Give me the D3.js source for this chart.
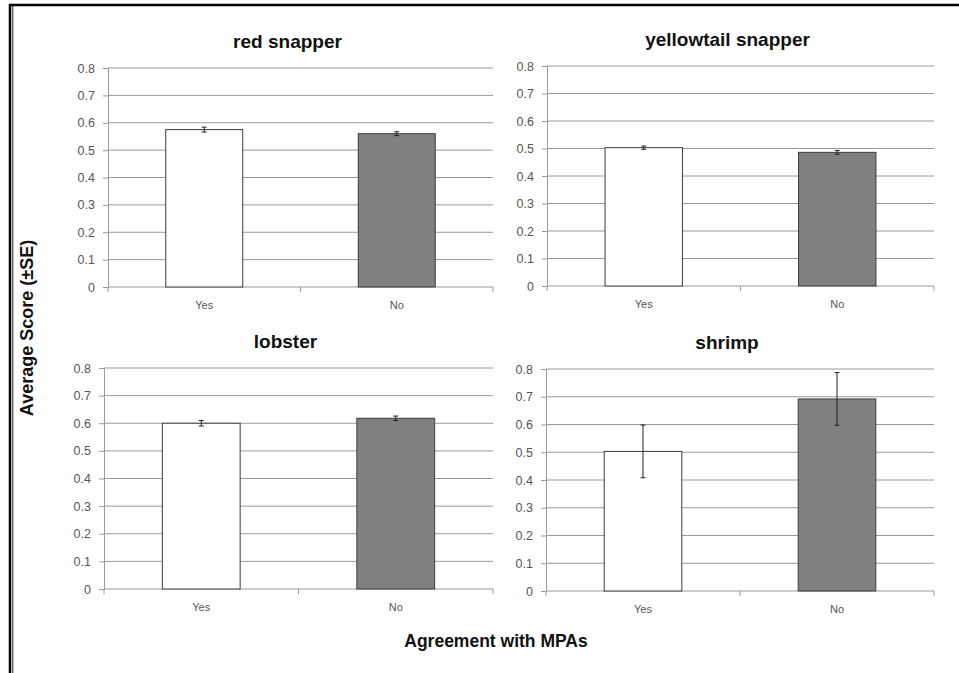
<!DOCTYPE html>
<html>
<head>
<meta charset="utf-8">
<script src="https://cdn.jsdelivr.net/npm/d3@7"></script>
<style>
  html, body { margin: 0; padding: 0; background: #fff; }
  svg { display: block; }
</style>
</head>
<body>
<svg id="chart" width="959" height="673"></svg>
<script>
// Survey results: mean score by agreement with MPAs, per species
const species = ["red snapper", "yellowtail snapper", "lobster", "shrimp"];
const categories = ["Yes", "No"];
const yesMeans = [0.575, 0.503, 0.600, 0.503];
const noMeans  = [0.560, 0.486, 0.618, 0.692];
const yesSE    = [0.009, 0.006, 0.010, 0.095];
const noSE     = [0.007, 0.007, 0.008, 0.095];
const yTicks   = [0, 0.1, 0.2, 0.3, 0.4, 0.5, 0.6, 0.7, 0.8];
const barColors = ["#ffffff", "#808080"];

// Plot area of each panel (left, right, top of 0.8, baseline)
const panels = [
  { x0: 108, x1: 493, yTop: 68,  yBase: 287 },
  { x0: 547, x1: 934, yTop: 66,  yBase: 286 },
  { x0: 104, x1: 493, yTop: 368, yBase: 589 },
  { x0: 546, x1: 934, yTop: 369, yBase: 591 }
];

const svg = d3.select("#chart");
const font = "Arial, 'Liberation Sans', sans-serif";

// Frame: heavy top rule and a double rule down the left side
svg.append("line").attr("x1", 9).attr("x2", 959).attr("y1", 5).attr("y2", 5)
  .attr("stroke", "#000").attr("stroke-width", 2.5);
svg.append("line").attr("x1", 10).attr("x2", 10).attr("y1", 4).attr("y2", 673)
  .attr("stroke", "#000").attr("stroke-width", 2.5);
svg.append("line").attr("x1", 12.8).attr("x2", 12.8).attr("y1", 6).attr("y2", 673)
  .attr("stroke", "#222").attr("stroke-width", 1);

species.forEach((name, i) => {
  const p = panels[i];
  const values = [yesMeans[i], noMeans[i]];
  const errs = [yesSE[i], noSE[i]];

  const x = d3.scaleBand().domain(categories).range([p.x0, p.x1])
    .paddingInner(0.6).paddingOuter(0.3);
  const y = d3.scaleLinear().domain([0, 0.8]).range([p.yBase, p.yTop]);
  const g = svg.append("g");

  // Horizontal gridlines
  g.selectAll(".grid").data(yTicks.slice(1)).join("line")
    .attr("x1", p.x0).attr("x2", p.x1)
    .attr("y1", d => y(d)).attr("y2", d => y(d))
    .attr("stroke", "#9a9a9a").attr("stroke-width", 1);

  // Value axis
  const yAxis = g.append("g").attr("transform", `translate(${p.x0},0)`)
    .call(d3.axisLeft(y).tickValues(yTicks).tickSize(5).tickPadding(8)
      .tickFormat(d => d === 0 ? "0" : d3.format(".1f")(d)));
  yAxis.select(".domain").attr("stroke", "#9a9a9a");
  yAxis.selectAll(".tick line").attr("stroke", "#9a9a9a");
  yAxis.selectAll(".tick text").attr("fill", "#555").style("font-size", "12.5px")
    .style("font-family", font);

  // Category axis with ticks at the band boundaries
  g.append("line").attr("x1", p.x0).attr("x2", p.x1)
    .attr("y1", p.yBase).attr("y2", p.yBase)
    .attr("stroke", "#9a9a9a").attr("stroke-width", 1);
  const edges = [p.x0, (p.x0 + p.x1) / 2, p.x1];
  g.selectAll(".xtick").data(edges).join("line")
    .attr("x1", d => d).attr("x2", d => d)
    .attr("y1", p.yBase).attr("y2", p.yBase + 5)
    .attr("stroke", "#9a9a9a");
  g.selectAll(".xlab").data(categories).join("text")
    .attr("x", d => x(d) + x.bandwidth() / 2)
    .attr("y", p.yBase + 22)
    .attr("text-anchor", "middle")
    .attr("fill", "#555")
    .style("font-size", "11px").style("font-family", font)
    .text(d => d);

  // Bars
  g.selectAll(".bar").data(categories).join("rect")
    .attr("x", d => x(d))
    .attr("width", x.bandwidth())
    .attr("y", (d, j) => y(values[j]))
    .attr("height", (d, j) => y(0) - y(values[j]))
    .attr("fill", (d, j) => barColors[j])
    .attr("stroke", "#3c3c3c").attr("stroke-width", 1);

  // Error bars (±SE)
  categories.forEach((c, j) => {
    const cx = x(c) + x.bandwidth() / 2;
    const hi = y(values[j] + errs[j]), lo = y(values[j] - errs[j]);
    g.append("line").attr("x1", cx).attr("x2", cx).attr("y1", hi).attr("y2", lo)
      .attr("stroke", "#222").attr("stroke-width", 1);
    [hi, lo].forEach(yy => g.append("line")
      .attr("x1", cx - 2.5).attr("x2", cx + 2.5).attr("y1", yy).attr("y2", yy)
      .attr("stroke", "#222").attr("stroke-width", 1));
  });

  // Panel title
  g.append("text")
    .attr("x", (p.x0 + p.x1) / 2 - 13)
    .attr("y", p.yTop - 20)
    .attr("text-anchor", "middle")
    .attr("fill", "#111")
    .style("font-size", "19px").style("font-weight", "bold").style("font-family", font)
    .text(name);
});

// Shared axis titles
svg.append("text")
  .attr("transform", "translate(33,328) rotate(-90)")
  .attr("text-anchor", "middle")
  .attr("fill", "#111")
  .style("font-size", "18px").style("font-weight", "bold").style("font-family", font)
  .text("Average Score (±SE)");

svg.append("text")
  .attr("x", 496).attr("y", 647)
  .attr("text-anchor", "middle")
  .attr("fill", "#111")
  .style("font-size", "17.5px").style("font-weight", "bold").style("font-family", font)
  .text("Agreement with MPAs");
</script>
</body>
</html>
